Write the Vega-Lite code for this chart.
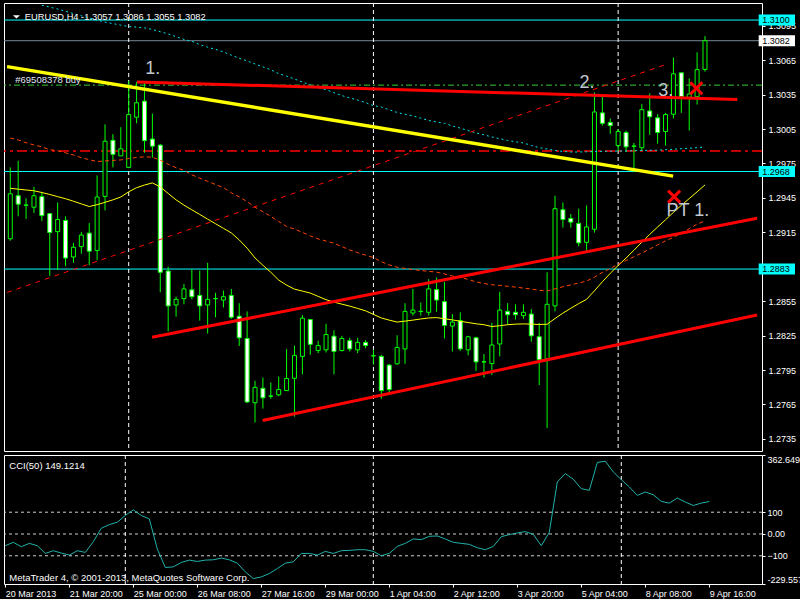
{
"$schema":"https://vega.github.io/schema/vega-lite/v6.json",
"background":"#000000",
"padding":{"left":2,"top":2,"right":0,"bottom":0},
"spacing":2,
"config":{
 "view":{"stroke":"#ffffff","strokeWidth":1,"fill":"#000000"},
 "axis":{"labelColor":"#ffffff","tickColor":"#ffffff","labelFont":"Liberation Sans","labelFontSize":9,"domain":false,"grid":false,"tickSize":3,"labelPadding":3},
 "text":{"font":"Liberation Sans"}
},
"datasets":{
 "bars":[
{"i":0,"o":1.29094,"h":1.29716,"l":1.29077,"c":1.29486,"m1":1.29534,"m2":1.29972,"cci":-53.7},
{"i":1,"o":1.29469,"h":1.29773,"l":1.2929,"c":1.29395,"m1":1.29526,"m2":1.29955,"cci":-38.3},
{"i":2,"o":1.29388,"h":1.29446,"l":1.29267,"c":1.29386,"m1":1.29519,"m2":1.29931,"cci":-58.4},
{"i":3,"o":1.29369,"h":1.29546,"l":1.29318,"c":1.29469,"m1":1.29512,"m2":1.29911,"cci":-43.0},
{"i":4,"o":1.29461,"h":1.29503,"l":1.29248,"c":1.29296,"m1":1.29497,"m2":1.29895,"m3":1.31128,"cci":-53.7},
{"i":5,"o":1.29313,"h":1.29318,"l":1.28771,"c":1.29148,"m1":1.2948,"m2":1.2987,"m3":1.31113,"cci":-89.2},
{"i":6,"o":1.29156,"h":1.2941,"l":1.28822,"c":1.29262,"m1":1.29461,"m2":1.29861,"m3":1.31096,"cci":-76.8},
{"i":7,"o":1.29254,"h":1.2929,"l":1.28856,"c":1.28926,"m1":1.29443,"m2":1.29843,"m3":1.31077,"cci":-87.6},
{"i":8,"o":1.28935,"h":1.29058,"l":1.28884,"c":1.2902,"m1":1.29421,"m2":1.29824,"m3":1.31056,"cci":-96.9},
{"i":9,"o":1.29026,"h":1.29154,"l":1.28964,"c":1.29126,"m1":1.29398,"m2":1.29801,"m3":1.31037,"cci":-76.8},
{"i":10,"o":1.29143,"h":1.29231,"l":1.28864,"c":1.28986,"m1":1.29375,"m2":1.29783,"m3":1.31018,"cci":-84.5},
{"i":11,"o":1.28992,"h":1.29646,"l":1.28907,"c":1.29458,"m1":1.29391,"m2":1.29767,"m3":1.30999,"cci":-35.3},
{"i":12,"o":1.29463,"h":1.30091,"l":1.29341,"c":1.29944,"m1":1.29412,"m2":1.29772,"m3":1.30982,"cci":26.3},
{"i":13,"o":1.29952,"h":1.30006,"l":1.29716,"c":1.2983,"m1":1.29433,"m2":1.29777,"m3":1.30969,"cci":43.3},
{"i":14,"o":1.29816,"h":1.30066,"l":1.29816,"c":1.29878,"m1":1.29458,"m2":1.29781,"m3":1.30956,"cci":54.1},
{"i":15,"o":1.29716,"h":1.30469,"l":1.2971,"c":1.30176,"m1":1.29503,"m2":1.29793,"m3":1.30943,"cci":84.9},
{"i":16,"o":1.30153,"h":1.30462,"l":1.301,"c":1.30279,"m1":1.29539,"m2":1.29803,"m3":1.30939,"cci":111.0},
{"i":17,"o":1.30293,"h":1.30455,"l":1.29844,"c":1.29949,"m1":1.29562,"m2":1.29808,"m3":1.30932,"cci":84.9},
{"i":18,"o":1.29963,"h":1.30185,"l":1.29801,"c":1.29901,"m1":1.29581,"m2":1.29805,"m3":1.30918,"cci":69.5},
{"i":19,"o":1.2991,"h":1.29921,"l":1.28628,"c":1.28802,"m1":1.29546,"m2":1.29778,"m3":1.30898,"cci":-69.1},
{"i":20,"o":1.28813,"h":1.2885,"l":1.28287,"c":1.28509,"m1":1.29489,"m2":1.29744,"m3":1.30879,"cci":-153.8},
{"i":21,"o":1.28517,"h":1.28589,"l":1.28415,"c":1.28566,"m1":1.29433,"m2":1.29713,"m3":1.30855,"cci":-150.8},
{"i":22,"o":1.28572,"h":1.287,"l":1.28523,"c":1.28657,"m1":1.29387,"m2":1.29691,"m3":1.30831,"cci":-130.7},
{"i":23,"o":1.28649,"h":1.28828,"l":1.28566,"c":1.28589,"m1":1.29346,"m2":1.29651,"m3":1.30815,"cci":-120.0},
{"i":24,"o":1.286,"h":1.28816,"l":1.28381,"c":1.28509,"m1":1.29306,"m2":1.29622,"m3":1.30786,"cci":-126.1},
{"i":25,"o":1.28517,"h":1.28884,"l":1.28268,"c":1.28566,"m1":1.29265,"m2":1.29594,"m3":1.30763,"cci":-120.0},
{"i":26,"o":1.28573,"h":1.28623,"l":1.2841,"c":1.28571,"m1":1.29225,"m2":1.29567,"m3":1.30745,"cci":-118.4},
{"i":27,"o":1.2856,"h":1.28643,"l":1.28495,"c":1.28589,"m1":1.29185,"m2":1.2954,"m3":1.30722,"cci":-110.7},
{"i":28,"o":1.286,"h":1.28657,"l":1.28396,"c":1.2841,"m1":1.29145,"m2":1.29494,"m3":1.30694,"cci":-118.4},
{"i":29,"o":1.28419,"h":1.28532,"l":1.2816,"c":1.28231,"m1":1.29084,"m2":1.2946,"m3":1.30667,"cci":-133.8},
{"i":30,"o":1.28225,"h":1.28461,"l":1.27663,"c":1.27671,"m1":1.29012,"m2":1.29418,"m3":1.30644,"cci":-173.9},
{"i":31,"o":1.27665,"h":1.27856,"l":1.27493,"c":1.27799,"m1":1.28927,"m2":1.29369,"m3":1.30617,"cci":-204.7},
{"i":32,"o":1.27791,"h":1.27884,"l":1.27614,"c":1.27708,"m1":1.28863,"m2":1.2933,"m3":1.30592,"cci":-197.0},
{"i":33,"o":1.27724,"h":1.27842,"l":1.277,"c":1.27722,"m1":1.28802,"m2":1.29289,"m3":1.30567,"cci":-181.6},
{"i":34,"o":1.27734,"h":1.27893,"l":1.27723,"c":1.2778,"m1":1.28734,"m2":1.29245,"m3":1.30533,"cci":-158.5},
{"i":35,"o":1.27771,"h":1.28132,"l":1.27771,"c":1.27876,"m1":1.2869,"m2":1.29201,"m3":1.30511,"cci":-133.8},
{"i":36,"o":1.27878,"h":1.28163,"l":1.27544,"c":1.28078,"m1":1.28655,"m2":1.29178,"m3":1.30486,"cci":-127.7},
{"i":37,"o":1.28069,"h":1.2843,"l":1.27913,"c":1.28402,"m1":1.28638,"m2":1.2915,"m3":1.3046,"cci":-89.2},
{"i":38,"o":1.2839,"h":1.28396,"l":1.28083,"c":1.28174,"m1":1.28621,"m2":1.29119,"m3":1.30434,"cci":-89.2},
{"i":39,"o":1.2812,"h":1.28206,"l":1.28097,"c":1.28163,"m1":1.28592,"m2":1.29093,"m3":1.30411,"cci":-96.9},
{"i":40,"o":1.28126,"h":1.28353,"l":1.28103,"c":1.28259,"m1":1.28563,"m2":1.29074,"m3":1.30393,"cci":-79.9},
{"i":41,"o":1.28245,"h":1.28296,"l":1.27913,"c":1.28112,"m1":1.28542,"m2":1.29055,"m3":1.30367,"cci":-89.2},
{"i":42,"o":1.2812,"h":1.28248,"l":1.28112,"c":1.28225,"m1":1.28524,"m2":1.29026,"m3":1.30342,"cci":-76.8},
{"i":43,"o":1.28206,"h":1.28231,"l":1.28112,"c":1.28134,"m1":1.28507,"m2":1.28996,"m3":1.30321,"cci":-75.3},
{"i":44,"o":1.28126,"h":1.28231,"l":1.28097,"c":1.28191,"m1":1.28487,"m2":1.28973,"m3":1.30303,"cci":-72.2},
{"i":45,"o":1.28191,"h":1.28211,"l":1.2814,"c":1.28163,"m1":1.28466,"m2":1.28951,"m3":1.30281,"cci":-72.2},
{"i":46,"o":1.28075,"h":1.28126,"l":1.27998,"c":1.28073,"m1":1.28435,"m2":1.28931,"m3":1.30254,"cci":-79.9},
{"i":47,"o":1.28069,"h":1.28083,"l":1.277,"c":1.27771,"m1":1.28404,"m2":1.28894,"m3":1.30242,"cci":-99.9},
{"i":48,"o":1.27993,"h":1.28004,"l":1.27742,"c":1.2778,"m1":1.28385,"m2":1.28866,"m3":1.30218,"cci":-89.2},
{"i":49,"o":1.28004,"h":1.28253,"l":1.27998,"c":1.28146,"m1":1.28368,"m2":1.28846,"m3":1.30195,"cci":-56.8},
{"i":50,"o":1.28134,"h":1.28532,"l":1.28004,"c":1.28461,"m1":1.28376,"m2":1.28836,"m3":1.30179,"cci":-43.0},
{"i":51,"o":1.28447,"h":1.28657,"l":1.28424,"c":1.28472,"m1":1.28385,"m2":1.28826,"m3":1.30165,"cci":-22.9},
{"i":52,"o":1.28462,"h":1.28538,"l":1.28424,"c":1.2846,"m1":1.28395,"m2":1.28817,"m3":1.30145,"cci":-26.0},
{"i":53,"o":1.28453,"h":1.28742,"l":1.28424,"c":1.28657,"m1":1.28404,"m2":1.2881,"m3":1.30125,"cci":-10.6},
{"i":54,"o":1.28651,"h":1.28756,"l":1.28458,"c":1.2856,"m1":1.28407,"m2":1.28803,"m3":1.30112,"cci":-9.1},
{"i":55,"o":1.28546,"h":1.28717,"l":1.28225,"c":1.28339,"m1":1.28397,"m2":1.28787,"m3":1.301,"cci":-22.9},
{"i":56,"o":1.28333,"h":1.28438,"l":1.28112,"c":1.28368,"m1":1.28387,"m2":1.28769,"m3":1.30077,"cci":-38.3},
{"i":57,"o":1.28381,"h":1.28453,"l":1.28117,"c":1.28134,"m1":1.28375,"m2":1.28757,"m3":1.30058,"cci":-43.0},
{"i":58,"o":1.28126,"h":1.28248,"l":1.28078,"c":1.2824,"m1":1.28364,"m2":1.2874,"m3":1.30037,"cci":-47.6},
{"i":59,"o":1.28231,"h":1.2824,"l":1.27942,"c":1.28021,"m1":1.28353,"m2":1.28718,"m3":1.30016,"cci":-63.0},
{"i":60,"o":1.28022,"h":1.28089,"l":1.27884,"c":1.2802,"m1":1.28345,"m2":1.28704,"m3":1.3,"cci":-72.2},
{"i":61,"o":1.28006,"h":1.28362,"l":1.27907,"c":1.28168,"m1":1.28329,"m2":1.28693,"m3":1.29981,"cci":-56.8},
{"i":62,"o":1.28177,"h":1.28632,"l":1.28069,"c":1.28472,"m1":1.28336,"m2":1.28688,"m3":1.29966,"cci":-12.2},
{"i":63,"o":1.28461,"h":1.28532,"l":1.28345,"c":1.28432,"m1":1.28345,"m2":1.2868,"m3":1.29951,"cci":-2.9},
{"i":64,"o":1.28453,"h":1.28523,"l":1.2839,"c":1.28432,"m1":1.2835,"m2":1.28673,"m3":1.29939,"cci":4.8},
{"i":65,"o":1.28424,"h":1.28523,"l":1.28396,"c":1.28453,"m1":1.28352,"m2":1.28664,"m3":1.29929,"cci":10.9},
{"i":66,"o":1.28438,"h":1.28481,"l":1.28197,"c":1.28248,"m1":1.2835,"m2":1.28656,"m3":1.29907,"cci":-1.4},
{"i":67,"o":1.2824,"h":1.28362,"l":1.27819,"c":1.2804,"m1":1.28347,"m2":1.28644,"m3":1.29888,"cci":-53.7},
{"i":68,"o":1.28049,"h":1.28802,"l":1.27444,"c":1.28523,"m1":1.28349,"m2":1.28639,"m3":1.29876,"cci":7.9},
{"i":69,"o":1.28509,"h":1.29469,"l":1.28461,"c":1.29356,"m1":1.28399,"m2":1.28657,"m3":1.29864,"cci":238.9},
{"i":70,"o":1.29347,"h":1.2941,"l":1.29191,"c":1.29262,"m1":1.28446,"m2":1.28676,"m3":1.29855,"cci":277.3},
{"i":71,"o":1.29271,"h":1.2931,"l":1.29191,"c":1.29239,"m1":1.28488,"m2":1.28692,"m3":1.2985,"cci":251.2},
{"i":72,"o":1.29228,"h":1.29356,"l":1.29029,"c":1.29058,"m1":1.28529,"m2":1.28708,"m3":1.2985,"cci":208.0},
{"i":73,"o":1.29063,"h":1.29384,"l":1.28992,"c":1.29197,"m1":1.28566,"m2":1.28726,"m3":1.29852,"cci":200.4},
{"i":74,"o":1.29177,"h":1.3037,"l":1.29148,"c":1.30199,"m1":1.28641,"m2":1.28759,"m3":1.29854,"cci":328.2},
{"i":75,"o":1.30191,"h":1.30332,"l":1.3008,"c":1.301,"m1":1.28719,"m2":1.28801,"m3":1.29856,"cci":334.3},
{"i":76,"o":1.30108,"h":1.30142,"l":1.30008,"c":1.3008,"m1":1.28793,"m2":1.28835,"m3":1.29857,"cci":285.1},
{"i":77,"o":1.29906,"h":1.30049,"l":1.29859,"c":1.30029,"m1":1.28861,"m2":1.28872,"m3":1.29858,"cci":249.6},
{"i":78,"o":1.3002,"h":1.30037,"l":1.2985,"c":1.29895,"m1":1.28926,"m2":1.28904,"m3":1.29859,"cci":215.8},
{"i":79,"o":1.29902,"h":1.29929,"l":1.29674,"c":1.299,"m1":1.28994,"m2":1.28937,"m3":1.29861,"cci":177.3},
{"i":80,"o":1.29887,"h":1.3027,"l":1.29859,"c":1.30219,"m1":1.29064,"m2":1.2897,"m3":1.29864,"cci":192.7},
{"i":81,"o":1.30208,"h":1.30361,"l":1.3,"c":1.30157,"m1":1.29132,"m2":1.29004,"m3":1.29865,"cci":180.3},
{"i":82,"o":1.30148,"h":1.30179,"l":1.29923,"c":1.3002,"m1":1.29197,"m2":1.29041,"m3":1.29866,"cci":149.5},
{"i":83,"o":1.30029,"h":1.30191,"l":1.29906,"c":1.30176,"m1":1.29259,"m2":1.29076,"m3":1.2987,"cci":141.8},
{"i":84,"o":1.30179,"h":1.30673,"l":1.30142,"c":1.30532,"m1":1.29324,"m2":1.29107,"m3":1.29874,"cci":164.9},
{"i":85,"o":1.3054,"h":1.3054,"l":1.30191,"c":1.30332,"m1":1.29385,"m2":1.29141,"m3":1.29879,"cci":146.5},
{"i":86,"o":1.30327,"h":1.30492,"l":1.30037,"c":1.30355,"m1":1.29444,"m2":1.29182,"m3":1.29883,"cci":131.1},
{"i":87,"o":1.30332,"h":1.30719,"l":1.30264,"c":1.30568,"m1":1.29503,"m2":1.29222,"m3":1.29888,"cci":141.8},
{"i":88,"o":1.3057,"h":1.3086,"l":1.3055,"c":1.3082,"m1":1.29563,"m2":1.29249,"m3":1.29893,"cci":149.12}
 ],
 "hl":[
  {"p":1.31,"kind":"line"},{"p":1.2968,"kind":"line"},{"p":1.2883,"kind":"line"},
  {"p":1.3082,"kind":"bid"},{"p":1.30433,"kind":"order"},{"p":1.29859,"kind":"stop"}
 ],
 "vl":[{"i":15},{"i":46},{"i":77}],
 "trend":[
  {"id":"res","kind":"red","i":16.05,"p":1.30461},{"id":"res","kind":"red","i":92.09,"p":1.30307},
  {"id":"up","kind":"red","i":17.96,"p":1.28235},{"id":"up","kind":"red","i":94.6,"p":1.29273},
  {"id":"lo","kind":"red","i":31.96,"p":1.2751},{"id":"lo","kind":"red","i":94.6,"p":1.2843},
  {"id":"yel","kind":"yellow","i":-0.41,"p":1.30594},{"id":"yel","kind":"yellow","i":83.96,"p":1.2964},
  {"id":"rd","kind":"dash","i":-0.41,"p":1.28626},{"id":"rd","kind":"dash","i":82.96,"p":1.30611}
 ],
 "notes":[
  {"i":0.78,"p":1.31028,"t":"","kind":"tri"},
  {"i":1.84,"p":1.31003,"t":"EURUSD,H4 -1.3057 1.3086 1.3055 1.3082","kind":"title"},
  {"i":0.63,"p":1.30451,"t":"#69508378 buy","kind":"order"},
  {"i":17.09,"p":1.30534,"t":"1.","kind":"big"},
  {"i":72.09,"p":1.30404,"t":"2.","kind":"big"},
  {"i":82.09,"p":1.30341,"t":"3.","kind":"big"},
  {"i":83.12,"p":1.2929,"t":"PT 1.","kind":"big"}
 ],
 "xmarks":[{"i":86.9,"p":1.30406},{"i":84.09,"p":1.29461}],
 "tags":[
  {"p":1.31,"t":"1.3100","kind":"line"},{"p":1.3082,"t":"1.3082","kind":"bid"},
  {"p":1.2968,"t":"1.2968","kind":"line"},{"p":1.2883,"t":"1.2883","kind":"line"}
 ],
 "levels":[{"v":100},{"v":0},{"v":-100}],
 "ccinotes":[
  {"i":0.5,"v":298.4,"t":"CCI(50) 149.1214"},
  {"i":0.5,"v":-214.4,"t":"MetaTrader 4, © 2001-2013, MetaQuotes Software Corp."}
 ]
},
"vconcat":[
 {"width":758,"height":448,
  "layer":[
   {"data":{"name":"hl"},"transform":[{"filter":"datum.kind=='line'"}],
    "mark":{"type":"rule","color":"#00ffff","strokeWidth":1},
    "encoding":{"y":{"field":"p","type":"quantitative","scale":{"domain":[1.27288,1.31105],"nice":false,"zero":false},"axis":{"orient":"right","title":null,"values":[1.3095,1.3065,1.3035,1.3005,1.2975,1.2945,1.2915,1.2855,1.2825,1.2795,1.2765,1.2735],"format":".4f","labelFlush":false,"labelAlign":"left"}}}},
   {"data":{"name":"hl"},"transform":[{"filter":"datum.kind=='bid'"}],
    "mark":{"type":"rule","color":"#778899","strokeWidth":1},
    "encoding":{"y":{"field":"p","type":"quantitative","scale":{"domain":[1.27288,1.31105],"nice":false,"zero":false},"axis":{"orient":"right","title":null,"values":[1.3095,1.3065,1.3035,1.3005,1.2975,1.2945,1.2915,1.2855,1.2825,1.2795,1.2765,1.2735],"format":".4f","labelFlush":false,"labelAlign":"left"}}}},
   {"data":{"name":"hl"},"transform":[{"filter":"datum.kind=='order'"}],
    "mark":{"type":"rule","color":"#32cd32","strokeWidth":1,"strokeDash":[6,3,2,3]},
    "encoding":{"y":{"field":"p","type":"quantitative","scale":{"domain":[1.27288,1.31105],"nice":false,"zero":false},"axis":{"orient":"right","title":null,"values":[1.3095,1.3065,1.3035,1.3005,1.2975,1.2945,1.2915,1.2855,1.2825,1.2795,1.2765,1.2735],"format":".4f","labelFlush":false,"labelAlign":"left"}}}},
   {"data":{"name":"hl"},"transform":[{"filter":"datum.kind=='stop'"}],
    "mark":{"type":"rule","color":"#ff0000","strokeWidth":1.5,"strokeDash":[10,4,3,4]},
    "encoding":{"y":{"field":"p","type":"quantitative","scale":{"domain":[1.27288,1.31105],"nice":false,"zero":false},"axis":{"orient":"right","title":null,"values":[1.3095,1.3065,1.3035,1.3005,1.2975,1.2945,1.2915,1.2855,1.2825,1.2795,1.2765,1.2735],"format":".4f","labelFlush":false,"labelAlign":"left"}}}},
   {"data":{"name":"vl"},
    "mark":{"type":"rule","color":"#ffffff","strokeWidth":1,"strokeDash":[4,3]},
    "encoding":{"x":{"field":"i","type":"quantitative","scale":{"domain":[-0.1625,94.5875],"nice":false,"zero":false},"axis":null}}},
   {"data":{"name":"bars"},
    "mark":{"type":"rule","color":"#00ff00","strokeWidth":1},
    "encoding":{"x":{"field":"i","type":"quantitative","scale":{"domain":[-0.1625,94.5875],"nice":false,"zero":false},"axis":null},
     "y":{"field":"l","type":"quantitative","scale":{"domain":[1.27288,1.31105],"nice":false,"zero":false},"axis":{"orient":"right","title":null,"values":[1.3095,1.3065,1.3035,1.3005,1.2975,1.2945,1.2915,1.2855,1.2825,1.2795,1.2765,1.2735],"format":".4f","labelFlush":false,"labelAlign":"left"}},
     "y2":{"field":"h"}}},
   {"data":{"name":"bars"},
    "mark":{"type":"bar","size":4,"stroke":"#00ff00","strokeWidth":1},
    "encoding":{"x":{"field":"i","type":"quantitative","scale":{"domain":[-0.1625,94.5875],"nice":false,"zero":false},"axis":null},
     "y":{"field":"o","type":"quantitative","scale":{"domain":[1.27288,1.31105],"nice":false,"zero":false},"axis":{"orient":"right","title":null,"values":[1.3095,1.3065,1.3035,1.3005,1.2975,1.2945,1.2915,1.2855,1.2825,1.2795,1.2765,1.2735],"format":".4f","labelFlush":false,"labelAlign":"left"}},
     "y2":{"field":"c"},
     "fill":{"condition":{"test":"datum.c < datum.o","value":"#ffffff"},"value":"#000000"}}},
   {"data":{"name":"bars"},
    "mark":{"type":"line","color":"#ffff00","strokeWidth":1,"clip":true},
    "encoding":{"x":{"field":"i","type":"quantitative","scale":{"domain":[-0.1625,94.5875],"nice":false,"zero":false},"axis":null},
     "y":{"field":"m1","type":"quantitative","scale":{"domain":[1.27288,1.31105],"nice":false,"zero":false},"axis":{"orient":"right","title":null,"values":[1.3095,1.3065,1.3035,1.3005,1.2975,1.2945,1.2915,1.2855,1.2825,1.2795,1.2765,1.2735],"format":".4f","labelFlush":false,"labelAlign":"left"}}}},
   {"data":{"name":"bars"},
    "mark":{"type":"line","color":"#ff4500","strokeWidth":1,"strokeDash":[4,3],"clip":true},
    "encoding":{"x":{"field":"i","type":"quantitative","scale":{"domain":[-0.1625,94.5875],"nice":false,"zero":false},"axis":null},
     "y":{"field":"m2","type":"quantitative","scale":{"domain":[1.27288,1.31105],"nice":false,"zero":false},"axis":{"orient":"right","title":null,"values":[1.3095,1.3065,1.3035,1.3005,1.2975,1.2945,1.2915,1.2855,1.2825,1.2795,1.2765,1.2735],"format":".4f","labelFlush":false,"labelAlign":"left"}}}},
   {"data":{"name":"bars"},
    "mark":{"type":"line","color":"#00e5ee","strokeWidth":1,"strokeDash":[2,3],"clip":true},
    "encoding":{"x":{"field":"i","type":"quantitative","scale":{"domain":[-0.1625,94.5875],"nice":false,"zero":false},"axis":null},
     "y":{"field":"m3","type":"quantitative","scale":{"domain":[1.27288,1.31105],"nice":false,"zero":false},"axis":{"orient":"right","title":null,"values":[1.3095,1.3065,1.3035,1.3005,1.2975,1.2945,1.2915,1.2855,1.2825,1.2795,1.2765,1.2735],"format":".4f","labelFlush":false,"labelAlign":"left"}}}},
   {"data":{"name":"trend"},"transform":[{"filter":"datum.kind=='dash'"}],
    "mark":{"type":"line","color":"#ff0000","strokeWidth":1,"strokeDash":[5,5],"clip":true},
    "encoding":{"x":{"field":"i","type":"quantitative","scale":{"domain":[-0.1625,94.5875],"nice":false,"zero":false},"axis":null},
     "y":{"field":"p","type":"quantitative","scale":{"domain":[1.27288,1.31105],"nice":false,"zero":false},"axis":{"orient":"right","title":null,"values":[1.3095,1.3065,1.3035,1.3005,1.2975,1.2945,1.2915,1.2855,1.2825,1.2795,1.2765,1.2735],"format":".4f","labelFlush":false,"labelAlign":"left"}},
     "detail":{"field":"id"}}},
   {"data":{"name":"trend"},"transform":[{"filter":"datum.kind=='yellow'"}],
    "mark":{"type":"line","color":"#ffff00","strokeWidth":3.5,"clip":true},
    "encoding":{"x":{"field":"i","type":"quantitative","scale":{"domain":[-0.1625,94.5875],"nice":false,"zero":false},"axis":null},
     "y":{"field":"p","type":"quantitative","scale":{"domain":[1.27288,1.31105],"nice":false,"zero":false},"axis":{"orient":"right","title":null,"values":[1.3095,1.3065,1.3035,1.3005,1.2975,1.2945,1.2915,1.2855,1.2825,1.2795,1.2765,1.2735],"format":".4f","labelFlush":false,"labelAlign":"left"}},
     "detail":{"field":"id"}}},
   {"data":{"name":"trend"},"transform":[{"filter":"datum.kind=='red'"}],
    "mark":{"type":"line","color":"#ff0000","strokeWidth":3,"clip":true},
    "encoding":{"x":{"field":"i","type":"quantitative","scale":{"domain":[-0.1625,94.5875],"nice":false,"zero":false},"axis":null},
     "y":{"field":"p","type":"quantitative","scale":{"domain":[1.27288,1.31105],"nice":false,"zero":false},"axis":{"orient":"right","title":null,"values":[1.3095,1.3065,1.3035,1.3005,1.2975,1.2945,1.2915,1.2855,1.2825,1.2795,1.2765,1.2735],"format":".4f","labelFlush":false,"labelAlign":"left"}},
     "detail":{"field":"id"}}},
   {"data":{"name":"notes"},"transform":[{"filter":"datum.kind=='tri'"}],
    "mark":{"type":"point","shape":"M-1,-0.45L1,-0.45L0,0.45Z","filled":true,"color":"#ffffff","size":49,"opacity":1},
    "encoding":{"x":{"field":"i","type":"quantitative","scale":{"domain":[-0.1625,94.5875],"nice":false,"zero":false},"axis":null},
     "y":{"field":"p","type":"quantitative","scale":{"domain":[1.27288,1.31105],"nice":false,"zero":false},"axis":{"orient":"right","title":null,"values":[1.3095,1.3065,1.3035,1.3005,1.2975,1.2945,1.2915,1.2855,1.2825,1.2795,1.2765,1.2735],"format":".4f","labelFlush":false,"labelAlign":"left"}}}},
   {"data":{"name":"notes"},"transform":[{"filter":"datum.kind=='title'"}],
    "mark":{"type":"text","align":"left","baseline":"alphabetic","fontSize":9.3,"color":"#ffffff","font":"Liberation Sans"},
    "encoding":{"x":{"field":"i","type":"quantitative","scale":{"domain":[-0.1625,94.5875],"nice":false,"zero":false},"axis":null},
     "y":{"field":"p","type":"quantitative","scale":{"domain":[1.27288,1.31105],"nice":false,"zero":false},"axis":{"orient":"right","title":null,"values":[1.3095,1.3065,1.3035,1.3005,1.2975,1.2945,1.2915,1.2855,1.2825,1.2795,1.2765,1.2735],"format":".4f","labelFlush":false,"labelAlign":"left"}},
     "text":{"field":"t"}}},
   {"data":{"name":"notes"},"transform":[{"filter":"datum.kind=='order'"}],
    "mark":{"type":"text","align":"left","baseline":"alphabetic","fontSize":9.5,"color":"#e0e8f8","font":"Liberation Sans"},
    "encoding":{"x":{"field":"i","type":"quantitative","scale":{"domain":[-0.1625,94.5875],"nice":false,"zero":false},"axis":null},
     "y":{"field":"p","type":"quantitative","scale":{"domain":[1.27288,1.31105],"nice":false,"zero":false},"axis":{"orient":"right","title":null,"values":[1.3095,1.3065,1.3035,1.3005,1.2975,1.2945,1.2915,1.2855,1.2825,1.2795,1.2765,1.2735],"format":".4f","labelFlush":false,"labelAlign":"left"}},
     "text":{"field":"t"}}},
   {"data":{"name":"notes"},"transform":[{"filter":"datum.kind=='big'"}],
    "mark":{"type":"text","align":"left","baseline":"alphabetic","fontSize":18,"color":"#c4c8d0","font":"Liberation Sans"},
    "encoding":{"x":{"field":"i","type":"quantitative","scale":{"domain":[-0.1625,94.5875],"nice":false,"zero":false},"axis":null},
     "y":{"field":"p","type":"quantitative","scale":{"domain":[1.27288,1.31105],"nice":false,"zero":false},"axis":{"orient":"right","title":null,"values":[1.3095,1.3065,1.3035,1.3005,1.2975,1.2945,1.2915,1.2855,1.2825,1.2795,1.2765,1.2735],"format":".4f","labelFlush":false,"labelAlign":"left"}},
     "text":{"field":"t"}}},
   {"data":{"name":"xmarks"},
    "mark":{"type":"point","shape":"M-1,-1L1,1M-1,1L1,-1","filled":false,"stroke":"#ff0000","strokeWidth":3,"size":144,"opacity":1},
    "encoding":{"x":{"field":"i","type":"quantitative","scale":{"domain":[-0.1625,94.5875],"nice":false,"zero":false},"axis":null},
     "y":{"field":"p","type":"quantitative","scale":{"domain":[1.27288,1.31105],"nice":false,"zero":false},"axis":{"orient":"right","title":null,"values":[1.3095,1.3065,1.3035,1.3005,1.2975,1.2945,1.2915,1.2855,1.2825,1.2795,1.2765,1.2735],"format":".4f","labelFlush":false,"labelAlign":"left"}}}},
   {"data":{"name":"tags"},
    "mark":{"type":"bar","size":11},
    "encoding":{"x":{"datum":94.8,"type":"quantitative","scale":{"domain":[-0.1625,94.5875],"nice":false,"zero":false},"axis":null},
     "x2":{"datum":99.4},
     "y":{"field":"p","type":"quantitative","scale":{"domain":[1.27288,1.31105],"nice":false,"zero":false},"axis":{"orient":"right","title":null,"values":[1.3095,1.3065,1.3035,1.3005,1.2975,1.2945,1.2915,1.2855,1.2825,1.2795,1.2765,1.2735],"format":".4f","labelFlush":false,"labelAlign":"left"}},
     "fill":{"condition":{"test":"datum.kind=='bid'","value":"#ffffff"},"value":"#00ffff"}}},
   {"data":{"name":"tags"},
    "mark":{"type":"text","align":"left","baseline":"middle","fontSize":9,"color":"#000000","font":"Liberation Sans"},
    "encoding":{"x":{"datum":95.25,"type":"quantitative","scale":{"domain":[-0.1625,94.5875],"nice":false,"zero":false},"axis":null},
     "y":{"field":"p","type":"quantitative","scale":{"domain":[1.27288,1.31105],"nice":false,"zero":false},"axis":{"orient":"right","title":null,"values":[1.3095,1.3065,1.3035,1.3005,1.2975,1.2945,1.2915,1.2855,1.2825,1.2795,1.2765,1.2735],"format":".4f","labelFlush":false,"labelAlign":"left"}},
     "text":{"field":"t"}}}
  ]},
 {"width":758,"height":129,
  "layer":[
   {"data":{"name":"levels"},
    "mark":{"type":"rule","color":"#d0d0d0","strokeWidth":1,"strokeDash":[3,3]},
    "encoding":{"y":{"field":"v","type":"quantitative","scale":{"domain":[-229.557,362.6493],"nice":false,"zero":false},
      "axis":{"orient":"right","title":null,"values":[362.6493,100,0,-100,-229.557],"labelFlush":true,"labelAlign":"left","labelPadding":2,"labelExpr":"datum.value > 300 ? '362.6493' : datum.value < -200 ? '-229.557' : datum.value == 0 ? '0.00' : format(datum.value, 'd')"}}}},
   {"data":{"name":"vl"},
    "mark":{"type":"rule","color":"#ffffff","strokeWidth":1,"strokeDash":[4,3]},
    "encoding":{"x":{"field":"i","type":"quantitative","scale":{"domain":[-0.1625,94.5875],"nice":false,"zero":false},
      "axis":{"orient":"bottom","title":null,"values":[0,8,16,24,32,40,48,56,64,72,80,88],"labelAlign":"left","labelFlush":false,"labelOverlap":false,"labelBound":false,"labelBaseline":"top","labelPadding":2,"labelExpr":"['20 Mar 2013','21 Mar 20:00','25 Mar 00:00','26 Mar 08:00','27 Mar 16:00','29 Mar 00:00','1 Apr 04:00','2 Apr 12:00','3 Apr 20:00','5 Apr 04:00','8 Apr 08:00','9 Apr 16:00'][round(datum.value/8)]"}}}},
   {"data":{"name":"bars"},
    "mark":{"type":"line","color":"#20b2aa","strokeWidth":1},
    "encoding":{"x":{"field":"i","type":"quantitative","scale":{"domain":[-0.1625,94.5875],"nice":false,"zero":false},
      "axis":{"orient":"bottom","title":null,"values":[0,8,16,24,32,40,48,56,64,72,80,88],"labelAlign":"left","labelFlush":false,"labelOverlap":false,"labelBound":false,"labelBaseline":"top","labelPadding":2,"labelExpr":"['20 Mar 2013','21 Mar 20:00','25 Mar 00:00','26 Mar 08:00','27 Mar 16:00','29 Mar 00:00','1 Apr 04:00','2 Apr 12:00','3 Apr 20:00','5 Apr 04:00','8 Apr 08:00','9 Apr 16:00'][round(datum.value/8)]"}},
     "y":{"field":"cci","type":"quantitative","scale":{"domain":[-229.557,362.6493],"nice":false,"zero":false},
      "axis":{"orient":"right","title":null,"values":[362.6493,100,0,-100,-229.557],"labelFlush":true,"labelAlign":"left","labelPadding":2,"labelExpr":"datum.value > 300 ? '362.6493' : datum.value < -200 ? '-229.557' : datum.value == 0 ? '0.00' : format(datum.value, 'd')"}}}},
   {"data":{"name":"ccinotes"},
    "mark":{"type":"text","align":"left","baseline":"alphabetic","fontSize":9.5,"color":"#ffffff","font":"Liberation Sans"},
    "encoding":{"x":{"field":"i","type":"quantitative","scale":{"domain":[-0.1625,94.5875],"nice":false,"zero":false},
      "axis":{"orient":"bottom","title":null,"values":[0,8,16,24,32,40,48,56,64,72,80,88],"labelAlign":"left","labelFlush":false,"labelOverlap":false,"labelBound":false,"labelBaseline":"top","labelPadding":2,"labelExpr":"['20 Mar 2013','21 Mar 20:00','25 Mar 00:00','26 Mar 08:00','27 Mar 16:00','29 Mar 00:00','1 Apr 04:00','2 Apr 12:00','3 Apr 20:00','5 Apr 04:00','8 Apr 08:00','9 Apr 16:00'][round(datum.value/8)]"}},
     "y":{"field":"v","type":"quantitative","scale":{"domain":[-229.557,362.6493],"nice":false,"zero":false},
      "axis":{"orient":"right","title":null,"values":[362.6493,100,0,-100,-229.557],"labelFlush":true,"labelAlign":"left","labelPadding":2,"labelExpr":"datum.value > 300 ? '362.6493' : datum.value < -200 ? '-229.557' : datum.value == 0 ? '0.00' : format(datum.value, 'd')"}},
     "text":{"field":"t"}}}
  ]}
]
}
